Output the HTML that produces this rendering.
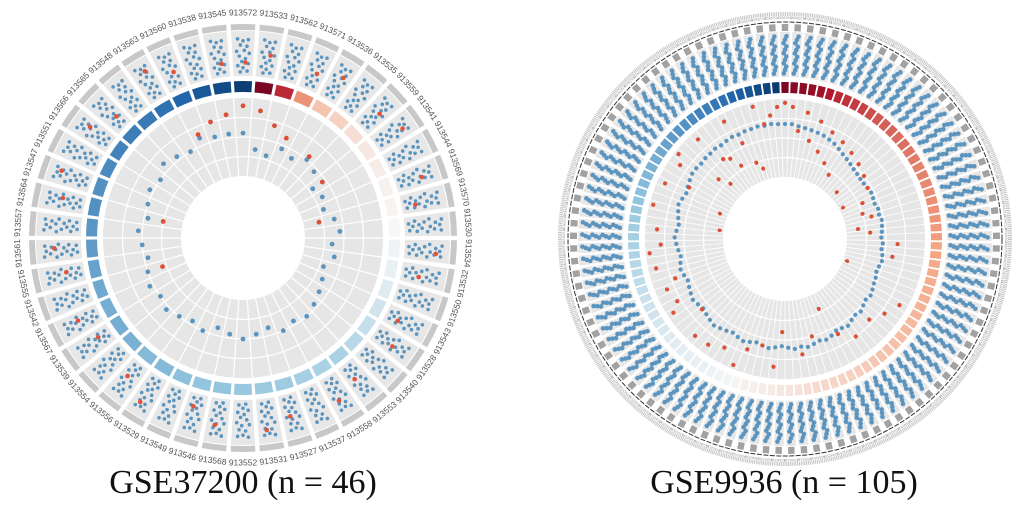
<!DOCTYPE html>
<html><head><meta charset="utf-8">
<style>
html,body{margin:0;padding:0;background:#fff;}
svg{display:block;}
.t{font-family:"Liberation Serif",serif;}
</style></head>
<body>
<svg id="svg" width="1024" height="511" viewBox="0 0 1024 511" xmlns="http://www.w3.org/2000/svg">
<g id="left"></g>
<g id="right"></g>
<text class="t" x="243" y="493" font-size="34" text-anchor="middle" fill="#111">GSE37200 (n = 46)</text>
<text class="t" x="784" y="493" font-size="34" text-anchor="middle" fill="#111">GSE9936 (n = 105)</text>
</svg>
<script>
// ---------- DATA ----------
const labelsL = ["913572","913533","913562","913571","913536","913535","913559","913541","913544","913569","913570","913530","913534","913532","913550","913543","913528","913540","913553","913558","913537","913527","913531","913552","913568","913546","913549","913529","913556","913554","913539","913567","913542","913555","913561","913557","913564","913547","913551","913566","913565","913548","913563","913560","913538","913545"];
const heatL = [-0.95,0.95,0.75,0.45,0.25,0.18,0.12,0.08,0.05,0.03,0.02,0.0,-0.03,-0.06,-0.1,-0.15,-0.2,-0.25,-0.3,-0.3,-0.32,-0.35,-0.35,-0.38,-0.4,-0.4,-0.42,-0.45,-0.45,-0.48,-0.5,-0.5,-0.52,-0.55,-0.58,-0.6,-0.62,-0.62,-0.65,-0.68,-0.7,-0.72,-0.75,-0.8,-0.85,-0.9];
const blueDotL = [0.55,0.35,0.3,0.45,0.4,0.5,0.45,0.3,0.35,0.3,0.4,0.45,0.35,0.4,0.3,0.35,0.4,0.45,0.5,0.45,0.5,0.4,0.45,0.5,0.45,0.4,0.5,0.45,0.5,0.55,0.5,0.55,0.5,0.45,0.5,0.55,0.45,0.5,0.55,0.5,0.6,0.55,0.5,0.6,0.55,0.55];
const redDotL = [0.9,0.85,0.7,0.6,-1,0.55,-1,0.45,-1,-1,0.2,-1,-1,-1,-1,-1,-1,-1,-1,-1,-1,-1,-1,-1,-1,-1,-1,-1,-1,-1,-1,-1,0.3,-1,-1,-1,0.25,-1,-1,-1,-1,-1,-1,0.65,0.75,0.8];

const heatR = [0.95,0.92,0.9,0.88,0.85,0.8,0.75,0.72,0.7,0.68,0.65,0.62,0.6,0.58,0.56,0.55,0.53,0.52,0.5,0.5,0.48,0.47,0.46,0.45,0.44,0.43,0.42,0.4,0.4,0.38,0.37,0.36,0.35,0.34,0.33,0.32,0.3,0.3,0.28,0.27,0.26,0.25,0.24,0.22,0.2,0.18,0.17,0.16,0.15,0.14,0.12,0.1,0.09,0.08,0.06,0.05,0.04,0.03,0.01,
 -0.02,-0.03,-0.04,-0.05,-0.06,-0.07,-0.08,-0.09,-0.1,-0.12,-0.13,-0.15,-0.16,-0.18,-0.2,-0.22,-0.24,-0.26,-0.28,-0.3,-0.32,-0.34,-0.36,-0.38,-0.4,-0.42,-0.44,-0.46,-0.48,-0.5,-0.52,-0.55,-0.58,-0.6,-0.62,-0.65,-0.68,-0.7,-0.73,-0.76,-0.8,-0.83,-0.86,-0.9,-0.93,-0.96];
const blueDotR = [0.68,0.68,0.66,0.65,0.64,0.63,0.62,0.6,0.58,0.55,0.52,0.5,0.48,0.46,0.45,0.44,0.44,0.45,0.46,0.45,0.44,0.46,0.45,0.47,0.46,0.45,0.44,0.46,0.45,0.47,0.48,0.46,0.45,0.47,0.48,0.5,0.52,0.5,0.52,0.55,0.53,0.55,0.58,0.56,0.55,0.58,0.6,0.58,0.6,0.62,0.6,0.62,0.6,0.58,0.6,0.62,0.6,0.58,0.6,0.62,0.6,0.58,0.6,0.62,0.64,0.62,0.6,0.58,0.6,0.62,0.6,0.58,0.56,0.58,0.6,0.58,0.56,0.58,0.6,0.62,0.6,0.58,0.6,0.62,0.64,0.62,0.6,0.62,0.64,0.66,0.66,0.65,0.66,0.66,0.67,0.66,0.67,0.68,0.67,0.68,0.68,0.69,0.68,0.69,0.68];
const redDotR = [0.95,0.9,0.6,0.85,0.5,0.78,0.4,0.7,0.3,0.65,0.2,0.6,-1,0.55,0.1,0.5,-1,0.45,0.05,0.3,-1,0.25,0.35,-1,0.15,0.3,-1,0.65,-1,0.6,-1,-1,0.05,-1,-1,0.9,-1,0.8,-1,0.7,-1,-1,0.75,-1,0.6,0.2,-1,-1,0.5,-1,0.7,-1,-1,0.4,0.85,-1,0.6,-1,0.7,0.95,-1,0.8,-1,0.88,-1,0.9,-1,0.6,-1,0.92,0.8,-1,0.85,0.7,-1,0.9,-1,0.95,0.8,-1,0.85,0.05,-1,0.95,-1,0.1,0.9,0.6,-1,0.85,0.95,0.35,0.2,0.9,0.5,0.45,0.3,0.9,0.55,0.25,0.15,0.95,0.7,0.8,0.9];

// ---------- helpers ----------
const NS="http://www.w3.org/2000/svg";
function mk(tag,attrs,parent){const e=document.createElementNS(NS,tag);for(const k in attrs)e.setAttribute(k,attrs[k]);parent.appendChild(e);return e;}
function pt(cx,cy,r,a){const t=a*Math.PI/180;return [cx+r*Math.sin(t),cy-r*Math.cos(t)];}
function arc(cx,cy,r0,r1,a0,a1){const p1=pt(cx,cy,r1,a0),p2=pt(cx,cy,r1,a1),p3=pt(cx,cy,r0,a1),p4=pt(cx,cy,r0,a0);const lg=(a1-a0)>180?1:0;
 return `M${p1[0]},${p1[1]}A${r1},${r1} 0 ${lg} 1 ${p2[0]},${p2[1]}L${p3[0]},${p3[1]}A${r0},${r0} 0 ${lg} 0 ${p4[0]},${p4[1]}Z`;}
function lerp(a,b,t){return a.map((v,i)=>Math.round(v+(b[i]-v)*t));}
function heatColor(v){const w=[247,247,247];
 if(v>=0){const c1=[244,165,130],c2=[178,24,43],c3=[103,0,31];
   if(v<0.4)return `rgb(${lerp(w,c1,v/0.4)})`; if(v<0.8)return `rgb(${lerp(c1,c2,(v-0.4)/0.4)})`; return `rgb(${lerp(c2,c3,(v-0.8)/0.2)})`;}
 v=-v;const c1=[146,197,222],c2=[33,102,172],c3=[5,48,97];
 if(v<0.4)return `rgb(${lerp(w,c1,v/0.4)})`; if(v<0.8)return `rgb(${lerp(c1,c2,(v-0.4)/0.4)})`; return `rgb(${lerp(c2,c3,(v-0.8)/0.2)})`;}

const G={rh:62,ri:140,h0:146,h1:157,p0:162,p1:207};
const panelPattern=[[-0.2,0.9],[0.0,0.85],[0.2,0.88],[-0.1,0.75],[0.15,0.72],[-0.25,0.6],[0.05,0.62],[0.25,0.55],[-0.15,0.48],[0.1,0.42],[-0.05,0.35],[0.22,0.3],[-0.22,0.25],[0.0,0.2],[0.18,0.12],[-0.12,0.1]];

function drawChart(gid,cx,cy,n,heat,blue,red,labels,dense){
 const g=document.getElementById(gid);
 const step=360/n;
 const inner=mk('path',{d:arc(cx,cy,G.rh,G.ri,0,359.99),fill:'#e6e6e6'},g);
 
 
 [0.25,0.5,0.75].forEach(f=>{const c=mk('circle',{cx,cy,r:G.rh+(G.ri-G.rh)*f,fill:'none',stroke:'#fff','stroke-width':1.2},g);
  
  });
 for(let i=0;i<n;i++){
  const a0=i*step-step/2, a1=a0+step, am=i*step;
  const s0=pt(cx,cy,G.rh,a0),s1=pt(cx,cy,G.ri,a0);
  const sl=mk('line',{x1:s0[0],y1:s0[1],x2:s1[0],y2:s1[1],stroke:'#fff','stroke-width':dense?0.8:1.2},g);
  
  
  const gap=dense?0.35:0.6;
  const hc=mk('path',{d:arc(cx,cy,G.h0,G.h1,a0+gap,a1-gap),fill:heatColor(heat[i])},g);
  
  
  const pn=mk('path',{d:arc(cx,cy,G.p0,G.p1,a0+gap,a1-gap),fill:'#e7e7e7'},g);
  
  
  const ts=mk('path',{d:arc(cx,cy,G.p1+1,G.p1+(dense?8:7),a0+gap+(dense?0.5:0),a1-gap-(dense?0.5:0)),fill:dense?'#a2a2a2':'#c8c8c8'},g);
  
  
  if(dense){
   for(let k=0;k<12;k++){const f=0.08+k*0.075;const p=pt(cx,cy,G.p0+(G.p1-G.p0)*f,am+((k%3)-1)*step*0.12);
    const d=mk('circle',{cx:p[0],cy:p[1],r:2.3,fill:'#5b94be'},g);
    
    }
  } else {
   panelPattern.forEach(q=>{const p=pt(cx,cy,G.p0+(G.p1-G.p0)*q[1]*0.92,am+q[0]*step);
    const d=mk('circle',{cx:p[0],cy:p[1],r:1.8,fill:'#5b94be'},g);
    
    });
   if(i%3!==2){const p=pt(cx,cy,G.p0+(G.p1-G.p0)*(0.3+0.5*((i*7)%5)/5),am+0.1*step);
    const d=mk('circle',{cx:p[0],cy:p[1],r:2.3,fill:'#e0543c'},g);
    
    }
  }
  const bp=pt(cx,cy,G.rh+(G.ri-G.rh)*blue[i],am);
  const bd=mk('circle',{cx:bp[0],cy:bp[1],r:dense?2.1:2.4,fill:'#5b94be'},g);
  
  
  if(red[i]>=0){const rp=pt(cx,cy,G.rh+(G.ri-G.rh)*red[i],am);
   const rd=mk('circle',{cx:rp[0],cy:rp[1],r:dense?2.1:2.4,fill:'#dd4f35'},g);
   
   }
  if(labels){
   const lp=pt(cx,cy,225,am);
   let rot=am; if(am>95&&am<262) rot=am+180;
   const t=mk('text',{x:lp[0],y:lp[1],'font-size':8.5,'font-family':'Liberation Sans, sans-serif',fill:'#555','text-anchor':'middle','dominant-baseline':'middle',transform:`rotate(${rot} ${lp[0]} ${lp[1]})`},g);
   t.textContent=labels[i];
   
   
  } else {
   const lp=pt(cx,cy,221,am);
   const t=mk('text',{x:lp[0],y:lp[1],'font-size':3.5,'font-family':'Liberation Sans, sans-serif',fill:'#999','text-anchor':'middle','dominant-baseline':'middle',transform:`rotate(${am} ${lp[0]} ${lp[1]})`},g);
   t.textContent='GSM2514';
   
   
  }
 }
 if(dense){const c=mk('circle',{cx,cy,r:G.p1+10,fill:'none',stroke:'#333','stroke-width':1,'stroke-dasharray':'5 1.5'},g);
  
  
  const c2=mk('circle',{cx,cy,r:225,fill:'none',stroke:'#c4c4c4','stroke-width':4,'stroke-dasharray':'1 0.8'},g);
  
  }
}
drawChart('left',243,238,46,heatL,blueDotL,redDotL,labelsL,false);
drawChart('right',785,239,105,heatR,blueDotR,redDotR,null,true);
</script>
</body></html>
